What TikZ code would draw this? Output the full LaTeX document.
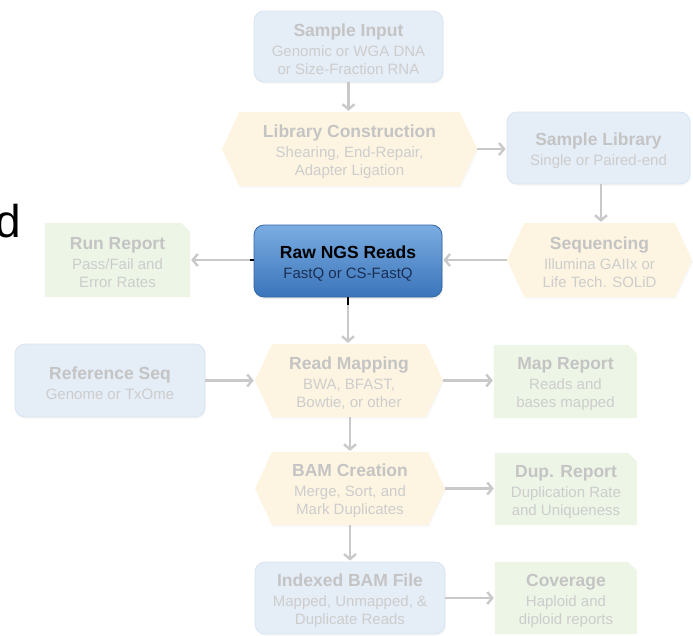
\documentclass[tikz,border=0pt]{standalone}
\usepackage{fontspec}
\setmainfont{Liberation Sans}
\usetikzlibrary{arrows.meta,shapes.symbols,shadows,backgrounds}

\definecolor{boxblue}{HTML}{E5EDF7}
\definecolor{boxblueline}{HTML}{D9E4F1}
\definecolor{hexyellow}{HTML}{FDF5E1}
\definecolor{notegreen}{HTML}{EDF5E6}
\definecolor{fadetitle}{HTML}{C4C4C4}
\definecolor{fadesub}{HTML}{CDCDCD}
\definecolor{flowgray}{HTML}{C9C9C9}
\definecolor{rawtop}{HTML}{7BADE1}
\definecolor{rawbot}{HTML}{3A74BA}
\definecolor{rawline}{HTML}{3366A6}
\definecolor{rawsub}{HTML}{1B2F55}

% bold heading line of a stage; the strut lowers the text block a little
\newcommand\boxtitle[1]{\rule{0pt}{18pt}{\fontsize{17.5}{20}\selectfont\bfseries\color{fadetitle}#1}}

\tikzset{
  base/.style={align=center, inner sep=0pt, text=fadesub,
    font=\fontsize{15}{18}\selectfont},
  softshadow/.style={drop shadow={opacity=0.06, shadow xshift=1pt, shadow yshift=-2pt}},
  bluebox/.style={base, rectangle, rounded corners=10pt, fill=boxblue,
    draw=boxblueline, line width=0.8pt, softshadow},
  hexbox/.style={base, signal, signal to=east and west, signal pointer angle=130,
    fill=hexyellow, softshadow},
  notebox/.style={base, rectangle},
  rawbox/.style={align=center, inner sep=0pt, rectangle, rounded corners=10pt,
    top color=rawtop, bottom color=rawbot, draw=rawline, line width=0.8pt,
    drop shadow={opacity=0.15, shadow xshift=1pt, shadow yshift=-2pt},
    font=\fontsize{15}{18}\selectfont, text=rawsub},
  flow/.style={draw=flowgray, line width=2.4pt,
    -{Straight Barb[length=5pt,width=12pt]}, shorten >=1pt},
  stub/.style={draw=black, line width=2.4pt},
}

\begin{document}
\begin{tikzpicture}[x=1pt, y=-1pt]
\useasboundingbox (0,0) rectangle (693,635);

% large letter at the left margin
\node[anchor=base west, inner sep=0pt, font=\fontsize{46}{46}\selectfont]
  (cut) at (-5,237) {d};

% pipeline stages
\node[bluebox, minimum width=189pt, minimum height=71pt] (si) at (348.5,46.5)
  {\boxtitle{Sample Input}\\[2pt]Genomic or WGA DNA\\or Size-Fraction RNA};
\node[hexbox, minimum width=255pt, minimum height=74pt] (lc) at (349.5,149)
  {\boxtitle{Library Construction}\\[2pt]Shearing, End-Repair,\\Adapter Ligation};
\node[bluebox, minimum width=183pt, minimum height=72pt] (sl) at (598.5,148)
  {\boxtitle{Sample Library}\\[2pt]Single or Paired-end};
\node[hexbox, minimum width=185pt, minimum height=74pt] (seq) at (599.5,260)
  {\boxtitle{Sequencing}\\[2pt]Illumina GAIIx or\\Life Tech. SOLiD};
\node[rawbox, minimum width=188pt, minimum height=72pt] (raw) at (348,261)
  {\rule{0pt}{18pt}{\fontsize{17.5}{20}\selectfont\bfseries\color{black}Raw NGS Reads}\\[2pt]FastQ or CS-FastQ};
\node[notebox, minimum width=145pt, minimum height=74pt] (rr) at (117.5,260)
  {\boxtitle{Run Report}\\[2pt]Pass/Fail and\\Error Rates};
\node[bluebox, minimum width=190pt, minimum height=73pt] (ref) at (110,380.5)
  {\boxtitle{Reference Seq}\\[2pt]Genome or TxOme};
\node[hexbox, minimum width=188pt, minimum height=73pt] (rm) at (349,380.5)
  {\boxtitle{Read Mapping}\\[2pt]BWA, BFAST,\\Bowtie, or other};
\node[notebox, minimum width=143pt, minimum height=73pt] (mr) at (565.5,381.5)
  {\boxtitle{Map Report}\\[2pt]Reads and\\bases mapped};
\node[hexbox, minimum width=190pt, minimum height=73pt] (bam) at (350,488.5)
  {\boxtitle{BAM Creation}\\[2pt]Merge, Sort, and\\Mark Duplicates};
\node[notebox, minimum width=142pt, minimum height=72pt] (dup) at (566,489)
  {\boxtitle{Dup. Report}\\[2pt]Duplication Rate\\and Uniqueness};
\node[bluebox, minimum width=190pt, minimum height=72pt] (idx) at (350,598)
  {\boxtitle{Indexed BAM File}\\[2pt]Mapped, Unmapped, \&\\Duplicate Reads};
\node[notebox, minimum width=142pt, minimum height=72pt] (cov) at (566,598)
  {\boxtitle{Coverage}\\[2pt]Haploid and\\diploid reports};

% report notes with a clipped upper right corner
\begin{scope}[on background layer]
  \foreach \n in {rr,mr,dup,cov}
    \fill[notegreen] (\n.south west) -- (\n.north west)
      -- ([xshift=-9pt]\n.north east) -- ([yshift=-9pt]\n.north east)
      -- (\n.south east) -- cycle;
\end{scope}

% connectors
\draw[flow] (si.south) -- (si.south |- lc.north);
\draw[flow] (lc.east) -- (sl.west |- lc.east);
\draw[flow] (sl.south -| 601,0) -- (601,0 |- seq.north);
\draw[flow] (seq.west) -- (raw.east |- seq.west);
\draw[flow] (raw.west |- rr.east) -- (rr.east);
\draw[flow] (raw.south) -- (raw.south |- rm.north);
\draw[flow] (ref.east) -- (rm.west);
\draw[flow] (rm.east) -- (mr.west |- rm.east);
\draw[flow] (rm.south -| bam.north) -- (bam.north);
\draw[flow] (bam.east) -- (dup.west |- bam.east);
\draw[flow] (bam.south) -- (idx.north);
\draw[flow] (idx.east) -- (cov.west);

% dark ends where the lines leave the highlighted stage
\draw[stub] (raw.west |- rr.east) -- ++(-4,0);
\draw[stub] (raw.south) -- ++(0,8);
\end{tikzpicture}
\end{document}
